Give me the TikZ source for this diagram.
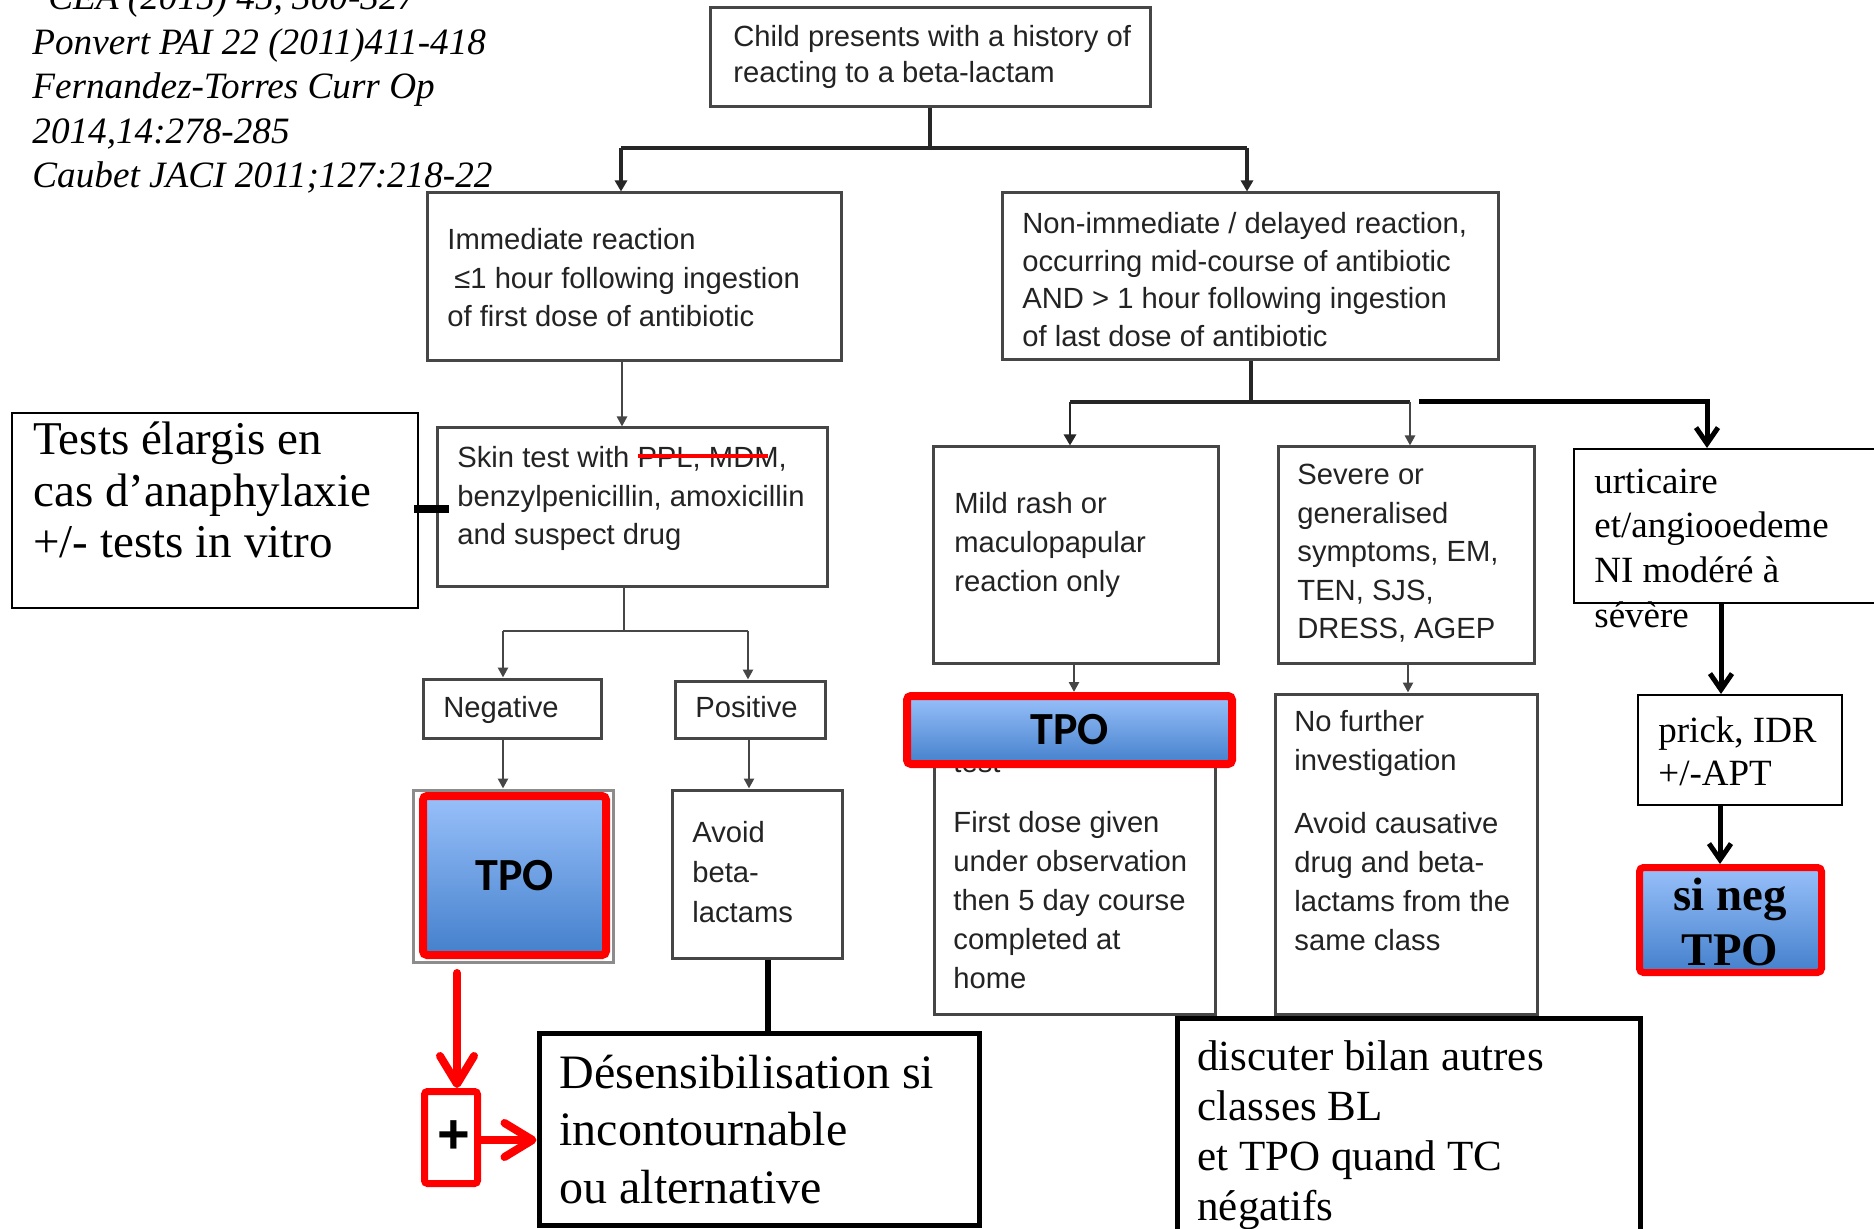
\documentclass[tikz,border=0pt]{standalone}
\usepackage{fontspec}
\setmainfont{Liberation Serif}
\setsansfont{Liberation Sans}
\newfontfamily\carl{Carlito}
\usetikzlibrary{arrows.meta,calc}
\definecolor{tpotop}{RGB}{152,192,250}
\definecolor{tpobot}{RGB}{68,128,204}
\definecolor{gborder}{RGB}{70,70,70}
\definecolor{gtext}{RGB}{35,35,35}
\tikzset{
 gbox/.style={draw=gborder, line width=1.5pt, fill=white, inner sep=0pt},
 bbox/.style={draw=black, line width=1pt, fill=white, inner sep=0pt},
 kbox/.style={draw=black, line width=2.5pt, fill=white, inner sep=0pt},
 tpobox/.style={draw=red, line width=4pt, rounded corners=2pt, top color=tpotop, bottom color=tpobot, inner sep=0pt},
 stxt/.style={font=\sffamily\fontsize{14.6}{19.3}\selectfont, text=gtext, align=left, anchor=base west, inner sep=0pt},
 rtxt/.style={font=\fontsize{18.5}{22.3}\selectfont, align=left, anchor=base west, inner sep=0pt},
 tpotxt/.style={font=\carl\bfseries\fontsize{23}{23}\selectfont},
 gline/.style={draw=gborder, line width=1.3pt},
 garrow/.style={gline, -{Triangle[length=5pt,width=5pt]}},
 kline/.style={draw=black!85, line width=2.2pt},
 karrowsmall/.style={draw=black!85, line width=1.8pt, -{Triangle[length=5.5pt,width=6pt]}},
 karrow/.style={draw=black, line width=2.5pt, -{Straight Barb[length=8pt,width=11pt]}},
 rarrow/.style={draw=red, line width=4pt, line cap=round, -{Straight Barb[length=14pt,width=17pt,round]}},
}
\begin{document}
\begin{tikzpicture}[x=0.5pt,y=-0.5pt]
\useasboundingbox (0,0) rectangle (1874,1229);
\fill[white] (0,0) rectangle (1874,1229);

% references (anchor = baseline of last line)
\node[rtxt, font=\itshape\fontsize{18.6}{22.3}\selectfont] (refs) at (32,188)
 {\hspace*{8pt}CEA (2015) 45, 300-327\\Ponvert PAI 22 (2011)411-418\\Fernandez-Torres Curr Op\\2014,14:278-285\\Caubet JACI 2011;127:218-22};

% top
\node[gbox, minimum width=220pt, minimum height=49.5pt] (top) at (930,57.5) {};
\node[stxt, font=\sffamily\fontsize{14.6}{18}\selectfont] (toptxt) at (733,83) {Child presents with a history of\\reacting to a beta-lactam};

% immediate
\node[gbox, minimum width=207pt, minimum height=84pt] (imm) at (634,277) {};
\node[stxt] (immtxt) at (447,327) {Immediate reaction\\\hspace*{3.5pt}≤1 hour following ingestion\\of first dose of antibiotic};

% skin test
\node[gbox, minimum width=195pt, minimum height=79.5pt] (skin) at (632,507.5) {};
\node[stxt] (skintxt) at (457,545) {Skin test with PPL, MDM,\\benzylpenicillin, amoxicillin\\and suspect drug};
\coordinate (s1) at (638,456);
\coordinate (s2) at (768,456);
\draw[red, line width=2pt] (s1) -- (s2);

% non immediate
\node[gbox, minimum width=248pt, minimum height=83.5pt] (nonimm) at (1250,276.5) {};
\node[stxt, font=\sffamily\fontsize{14.6}{18.75}\selectfont] (nonimmtxt) at (1022,346.5) {Non-immediate / delayed reaction,\\occurring mid-course of antibiotic\\AND > 1 hour following ingestion\\of last dose of antibiotic};

% tests elargis
\node[bbox, minimum width=203pt, minimum height=97.5pt] (tests) at (215,510.5) {};
\node[rtxt, font=\fontsize{23.5}{25.75}\selectfont] (teststxt) at (33,558) {Tests élargis en\\cas d’anaphylaxie\\+/- tests in vitro};

% negative / positive
\node[gbox, minimum width=89pt, minimum height=29.5pt] (neg) at (512,708.5) {};
\node[stxt] (negtxt) at (443,717) {Negative};
\node[gbox, minimum width=75pt, minimum height=28.5pt] (pos) at (750,709.5) {};
\node[stxt] (postxt) at (695,717) {Positive};

% TPO 1
\node[gbox, draw=black!45, minimum width=100pt, minimum height=86pt] (tpo1bg) at (513,876) {};
\node[tpobox, minimum width=91.5pt, minimum height=79.5pt, tpotxt] (tpo1) at (514.5,875.5) {TPO};

% avoid
\node[gbox, minimum width=85pt, minimum height=84pt] (avoid) at (757,874) {};
\node[stxt, font=\sffamily\fontsize{14.6}{20}\selectfont] (avoidtxt) at (692,922) {Avoid\\beta-\\lactams};

% mild / severe
\node[gbox, minimum width=142.5pt, minimum height=108pt] (mild) at (1075.5,555) {};
\node[stxt, font=\sffamily\fontsize{14.6}{19.75}\selectfont] (mildtxt) at (954,592) {Mild rash or\\maculopapular\\reaction only};
\node[gbox, minimum width=128pt, minimum height=108pt] (severe) at (1406,555) {};
\node[stxt, font=\sffamily\fontsize{14.6}{19.25}\selectfont] (severetxt) at (1297,639) {Severe or\\generalised\\symptoms, EM,\\TEN, SJS,\\DRESS, AGEP};

% first dose
\node[gbox, minimum width=140.5pt, minimum height=157pt] (first) at (1074.5,857) {};
\node[stxt] (hidden) at (953,772) {test};
\node[stxt, font=\sffamily\fontsize{14.6}{19.4}\selectfont] (firsttxt) at (953,988) {First dose given\\under observation\\then 5 day course\\completed at\\home};
\node[tpobox, minimum width=162.5pt, minimum height=34pt, tpotxt] (tpo2) at (1069.5,730) {TPO};

% no further
\node[gbox, minimum width=131pt, minimum height=160pt] (nofurther) at (1406,854) {};
\node[stxt, font=\sffamily\fontsize{14.6}{19.5}\selectfont] (nofurthertxt) at (1294,950) {No further\\investigation\\[12pt]Avoid causative\\drug and beta-\\lactams from the\\same class};

% urticaire
\node[bbox, minimum width=158pt, minimum height=77pt] (urt) at (1732,526) {};
\node[rtxt] (urttxt) at (1594,627) {urticaire\\et/angiooedeme\\NI modéré à\\sévère};

% prick
\node[bbox, minimum width=102pt, minimum height=55pt] (prick) at (1740,750) {};
\node[rtxt, font=\fontsize{18.5}{21.5}\selectfont] (pricktxt) at (1658,785) {prick, IDR\\+/-APT};

% si neg TPO
\node[tpobox, line width=3.5pt, minimum width=91pt, minimum height=52.5pt] (sineg) at (1730.5,920) {};
\node[font=\bfseries\fontsize{23.4}{27.5}\selectfont, align=center, anchor=base, inner sep=0pt] (sinegtxt) at (1730,965) {si neg\\TPO};

% plus
\node[draw=red, line width=3.5pt, fill=white, rounded corners=1.5pt, minimum width=26.5pt, minimum height=46pt, inner sep=0pt, font=\sffamily\bfseries\fontsize{28}{28}\selectfont] (plus) at (451,1137.5) {\hspace*{3pt}+};

% desensibilisation
\node[kbox, minimum width=220pt, minimum height=96pt] (desens) at (759,1129) {};
\node[rtxt, font=\fontsize{24}{28.75}\selectfont] (desenstxt) at (559,1203) {Désensibilisation si\\incontournable\\ou alternative};

% discuter
\node[kbox, minimum width=231.5pt, minimum height=121pt] (disc) at (1408.5,1139) {};
\node[rtxt, font=\fontsize{21.5}{25}\selectfont] (disctxt) at (1197,1220) {discuter bilan autres\\classes BL\\et TPO quand TC\\négatifs};

% ---------- connectors ----------
\coordinate (jt) at (930,148);
\coordinate (jtl) at (621,148);
\coordinate (jtr) at (1247,148);
\draw[kline] (top.south) -- (jt);
\draw[kline] (jtl) -- (jtr);
\draw[karrowsmall] (jtl) -- (jtl |- imm.north);
\draw[karrowsmall] (jtr) -- (jtr |- nonimm.north);

\coordinate (c1) at (622,0);
\draw[garrow] (c1 |- imm.south) -- (c1 |- skin.north);

\coordinate (js) at (624,631);
\coordinate (jsl) at (503,631);
\coordinate (jsr) at (748,631);
\draw[gline] (js |- skin.south) -- (js);
\draw[gline] (jsl) -- (jsr);
\draw[garrow] (jsl) -- (jsl |- neg.north);
\draw[garrow] (jsr) -- (jsr |- pos.north);
\draw[garrow] (jsl |- neg.south) -- (jsl |- tpo1bg.north);
\coordinate (c2) at (749,0);
\draw[garrow] (c2 |- pos.south) -- (c2 |- avoid.north);
\coordinate (c3) at (768,0);
\draw[black, line width=3pt] (c3 |- avoid.south) -- (c3 |- desens.north);

\draw[black, line width=4pt] ($(tests.east)+(-5,-1.5)$) -- ($(tests.east -| skin.west)+(13,-1.5)$);

\coordinate (r1) at (457,973);
\draw[rarrow] (r1) -- (r1 |- plus.north);
\coordinate (r2) at (0,1140);
\draw[rarrow] (r2 -| plus.east) -- (r2 -| desens.west);

\coordinate (jn) at (1251,402);
\coordinate (jnl) at (1070,402);
\coordinate (jnr) at (1410,402);
\draw[kline] (jn |- nonimm.south) -- (jn);
\draw[kline] (jnl) -- (jnr);
\draw[karrowsmall, line width=1.4pt] (jnl) -- (jnl |- mild.north);
\draw[garrow] (jnr) -- (jnr |- severe.north);
\coordinate (ju1) at (1419,402);
\coordinate (ju2) at (1707,402);
\draw[karrow] (ju1) -- (ju2) -- (ju2 |- urt.north);

\coordinate (c4) at (1074,0);
\draw[garrow] (c4 |- mild.south) -- (c4 |- tpo2.north);
\coordinate (c5) at (1408,0);
\draw[garrow] (c5 |- severe.south) -- (c5 |- nofurther.north);
\coordinate (c6) at (1721,0);
\draw[karrow] (c6 |- urt.south) -- (c6 |- prick.north);
\coordinate (c7) at (1720,0);
\draw[karrow] (c7 |- prick.south) -- (c7 |- sineg.north);
\end{tikzpicture}
\end{document}
